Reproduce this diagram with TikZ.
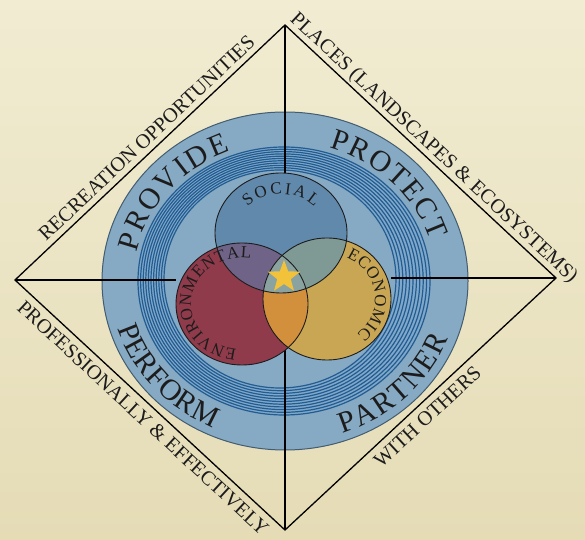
\documentclass[tikz,border=0pt]{standalone}
\usepackage{fontspec}
\setmainfont{Liberation Serif}
\usepackage{xcolor}
\usetikzlibrary{positioning,shapes.geometric,decorations.text}

\definecolor{parchtop}{RGB}{241,236,210}
\definecolor{parchbot}{RGB}{229,220,182}
\definecolor{ovalblue}{RGB}{134,169,196}
\definecolor{ovaledge}{RGB}{66,92,112}
\definecolor{ringfill}{RGB}{128,168,202}
\definecolor{ringline}{RGB}{34,92,145}
\definecolor{socblue}{RGB}{97,137,172}
\definecolor{envred}{RGB}{143,59,75}
\definecolor{ecoyellow}{RGB}{201,166,83}
\definecolor{envsoc}{RGB}{111,100,135}
\definecolor{soceco}{RGB}{127,154,148}
\definecolor{enveco}{RGB}{210,143,60}
\definecolor{allthree}{RGB}{138,163,160}
\definecolor{staryellow}{RGB}{242,194,58}
\definecolor{ink}{RGB}{28,28,28}

\newcommand\edgefont{\fontsize{20.5}{20.5}\selectfont}
\newcommand\ringfont{\fontsize{30}{30}\selectfont}
\newcommand\vennfont{\fontsize{17}{17}\selectfont}

\newcommand\socset{(281,307) ellipse[x radius=66bp,y radius=60bp]}
\newcommand\envset{(242,236) ellipse[x radius=66bp,y radius=61bp]}
\newcommand\ecoset{(327,241) ellipse[x radius=64bp,y radius=61bp]}

\tikzset{
  frame/.style={draw=black,line width=1.3bp,line join=miter},
  link/.style={draw=black,line width=1.3bp},
  edgelabel/.style={font=\edgefont,text=ink,inner sep=0pt,text depth=0pt,sloped},
  venn/.style={ellipse,inner sep=0pt,draw=ink,line width=0.9bp},
  ringword/.style={decorate,decoration={text along path,text align={fit to path},
    text={|\color{ink}\ringfont|#1}}},
  vennword/.style={decorate,decoration={text along path,text align={fit to path},
    text={|\color{ink}\vennfont|#1}}},
}

\begin{document}
\begin{tikzpicture}[x=1bp,y=1bp]
  \shade[top color=parchtop,bottom color=parchbot] (0,0) rectangle (585,540);
  \useasboundingbox (0,0) rectangle (585,540);

  \coordinate (top) at (285,515);
  \coordinate (left) at (15,260);
  \coordinate (right) at (556,262);
  \coordinate (bottom) at (285,10);
  \coordinate (c0) at (285,259);

  % diamond and its four sides
  \draw[frame] (left) -- (top) -- (right) -- (bottom) -- cycle;
  \path (left) -- node[edgelabel,above=6bp,pos=0.52] (recr) {RECREATION OPPORTUNITIES} (top);
  \path (top) -- node[edgelabel,above=6bp,pos=0.52] (plac) {PLACES (LANDSCAPES \& ECOSYSTEMS)} (right);
  \path (left) -- node[edgelabel,below=7bp,pos=0.51] (prof) {PROFESSIONALLY \& EFFECTIVELY} (bottom);
  \path (bottom) -- node[edgelabel,below=7bp,pos=0.49] (with) {WITH OTHERS} (right);

  % oval and rings
  \filldraw[fill=ovalblue,draw=ovaledge,line width=1bp] (c0) ellipse[x radius=183bp,y radius=169bp];
  \fill[ringfill,even odd rule] (284,259) ellipse[x radius=146bp,y radius=134bp]
    (280,261) ellipse[x radius=116bp,y radius=109bp];
  \foreach \k in {0,...,10}{
    \draw[ringline,line width=1.2bp] ({284-4*\k/10},{259+2*\k/10})
      ellipse[x radius={(146-30*\k/10)*1bp},y radius={(134-25*\k/10)*1bp}];
  }

  \path[ringword=PROVIDE] ([shift={(168:152bp and 139bp)}]c0)
    arc[start angle=168,end angle=111,x radius=152bp,y radius=139bp];
  \path[ringword=PROTECT] ([shift={(73:152bp and 139bp)}]c0)
    arc[start angle=73,end angle=17,x radius=152bp,y radius=139bp];
  \path[ringword=PERFORM] ([shift={(197:175bp and 161bp)}]c0)
    arc[start angle=197,end angle=246,x radius=175bp,y radius=161bp];
  \path[ringword=PARTNER] ([shift={(289:175bp and 161bp)}]c0)
    arc[start angle=289,end angle=339,x radius=175bp,y radius=161bp];

  % three circles
  \node[venn,draw=none,minimum width=132bp,minimum height=120bp] (soc) at (281,307) {};
  \node[venn,draw=none,minimum width=132bp,minimum height=122bp] (env) at (242,236) {};
  \node[venn,draw=none,minimum width=128bp,minimum height=122bp] (eco) at (327,241) {};
  \node[star,star points=5,star point ratio=2.4,minimum size=34bp,inner sep=0pt] (star) at (284,263) {};

  \draw[link] (top) -- (top |- soc.north);
  \draw[link] (left) -- (left -| env.west);
  \draw[link] (right) -- (right -| eco.east);
  \draw[link] (bottom) -- (bottom |- star);

  \fill[envred] \envset;
  \fill[ecoyellow] \ecoset;
  \fill[socblue] \socset;
  \begin{scope}\clip \envset; \fill[enveco] \ecoset; \end{scope}
  \begin{scope}\clip \envset; \fill[envsoc] \socset; \end{scope}
  \begin{scope}\clip \socset; \fill[soceco] \ecoset; \end{scope}
  \begin{scope}\clip \envset; \clip \ecoset; \fill[allthree] \socset; \end{scope}

  \draw[ink,line width=0.9bp] \envset;
  \draw[ink,line width=0.9bp] \ecoset;
  \draw[ink,line width=0.9bp] \socset;

  \path[vennword=SOCIAL] ([shift={(138:45bp and 39bp)}]soc.center)
    arc[start angle=138,end angle=42,x radius=45bp,y radius=39bp];
  \path[vennword=ENVIRONMENTAL] ([shift={(264:51bp and 46bp)}]env.center)
    arc[start angle=264,end angle=80,x radius=51bp,y radius=46bp];
  \path[vennword=ECONOMIC] ([shift={(66:48bp and 45bp)}]eco.center)
    arc[start angle=66,end angle=-52,x radius=48bp,y radius=45bp];

  \node[star,star points=5,star point ratio=2.4,fill=staryellow,minimum size=34bp,inner sep=0pt] at (star) {};
\end{tikzpicture}
\end{document}
